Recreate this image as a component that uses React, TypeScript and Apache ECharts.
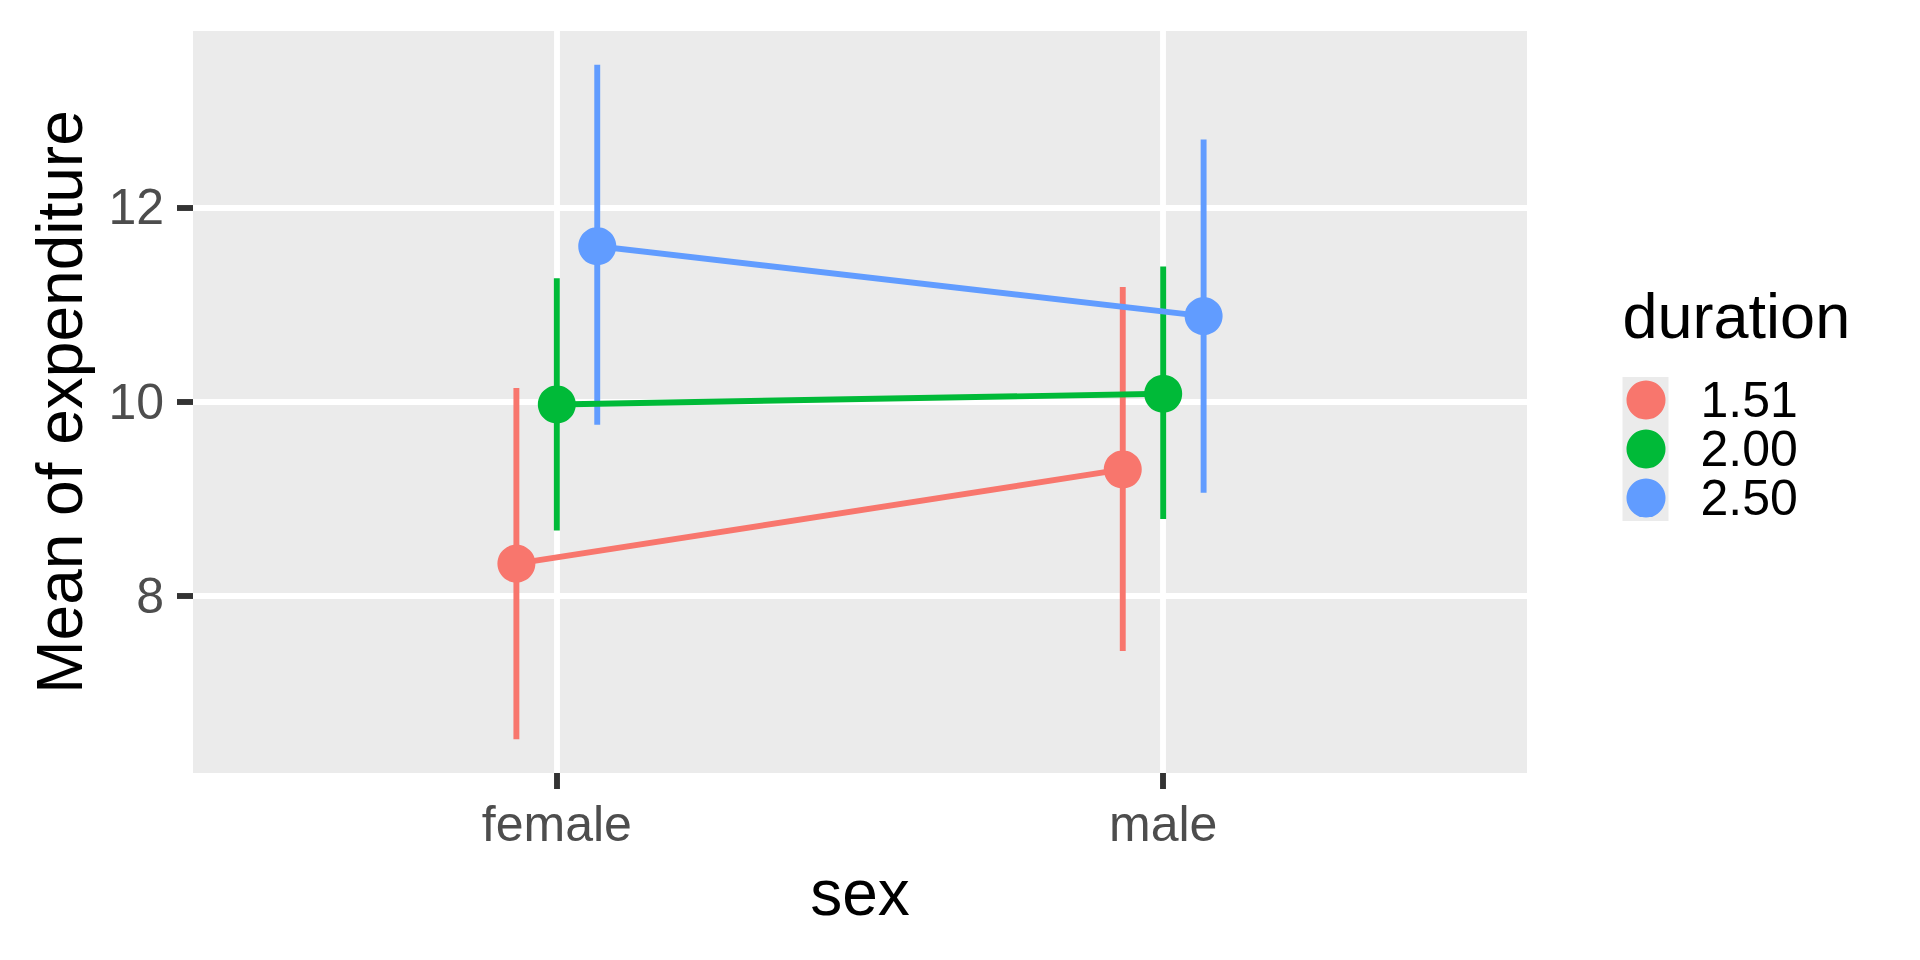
import React, { useEffect, useRef } from "react";
import * as echarts from "echarts";

const sexes = ["female", "male"];
const durations = ["1.51", "2.00", "2.50"];
const colors = ["#F8766D", "#00BA38", "#619CFF"];

const mean151 = [8.33, 9.3];
const lo151 = [6.52, 7.43];
const hi151 = [10.14, 11.18];

const mean200 = [9.97, 10.08];
const lo200 = [8.67, 8.79];
const hi200 = [11.27, 11.39];

const mean250 = [11.6, 10.88];
const lo250 = [9.76, 9.06];
const hi250 = [13.47, 12.7];

const yTicks = [8, 10, 12];
const dodgeWidth = 0.2;

const FONT = "'Liberation Sans', Arial, Helvetica, sans-serif";

export default function App() {
  const ref = useRef<HTMLDivElement>(null);

  useEffect(() => {
    if (!ref.current) return;
    const chart = echarts.init(ref.current, undefined, { renderer: "svg" });

    const means = [mean151, mean200, mean250];
    const los = [lo151, lo200, lo250];
    const his = [hi151, hi200, hi250];
    const n = durations.length;
    const offsets = durations.map((_, i) => (i - (n - 1) / 2) * (dodgeWidth / n));

    const allLo = Math.min(...los.flat());
    const allHi = Math.max(...his.flat());
    const pad = 0.05 * (allHi - allLo);

    const lineSeries = durations.map((d, i) => ({
      type: "line",
      name: d,
      data: sexes.map((_, j) => [j + 1 + offsets[i], means[i][j]]),
      symbol: "circle",
      symbolSize: 38,
      itemStyle: { color: colors[i] },
      lineStyle: { color: colors[i], width: 5.9 },
      z: 3,
    }));

    const errSeries = durations.map((d, i) => ({
      type: "custom",
      data: sexes.map((_, j) => [j + 1 + offsets[i], los[i][j], his[i][j]]),
      encode: { x: 0, y: [1, 2] },
      z: 3,
      renderItem: (params: any, api: any) => {
        const x = api.value(0);
        const p1 = api.coord([x, api.value(1)]);
        const p2 = api.coord([x, api.value(2)]);
        return {
          type: "line",
          shape: { x1: p1[0], y1: p1[1], x2: p2[0], y2: p2[1] },
          style: { stroke: colors[i], lineWidth: 5.9 },
        };
      },
    }));

    chart.setOption({
      animation: false,
      backgroundColor: "#FFFFFF",
      textStyle: { fontFamily: FONT },
      grid: {
        left: 193,
        top: 31,
        width: 1334,
        height: 742,
        show: true,
        backgroundColor: "#EBEBEB",
        borderWidth: 0,
      },
      xAxis: {
        type: "value",
        min: 0.4,
        max: 2.6,
        name: "sex",
        nameLocation: "middle",
        nameGap: 88,
        nameTextStyle: { fontSize: 64, color: "#000000", fontFamily: FONT },
        axisLine: { show: false },
        axisTick: {
          show: true,
          length: 16,
          customValues: [1, 2],
          lineStyle: { color: "#333333", width: 5.9 },
        },
        axisLabel: {
          customValues: [1, 2],
          margin: 26,
          fontSize: 50,
          color: "#4D4D4D",
          fontFamily: FONT,
          formatter: (v: number) => sexes[Math.round(v) - 1] ?? "",
        },
        splitLine: { show: true, lineStyle: { color: "#FFFFFF", width: 5.9 } },
      },
      yAxis: {
        type: "value",
        min: allLo - pad,
        max: allHi + pad,
        name: "Mean of expenditure",
        nameLocation: "middle",
        nameRotate: 90,
        nameGap: 101,
        nameTextStyle: { fontSize: 64, color: "#000000", fontFamily: FONT },
        axisLine: { show: false },
        axisTick: {
          show: true,
          length: 16,
          customValues: yTicks,
          lineStyle: { color: "#333333", width: 5.9 },
        },
        axisLabel: {
          customValues: yTicks,
          margin: 29,
          fontSize: 50,
          color: "#4D4D4D",
          fontFamily: FONT,
        },
        splitLine: { show: true, lineStyle: { color: "#FFFFFF", width: 5.9 } },
      },
      legend: {
        orient: "vertical",
        left: 1626.5,
        top: 375,
        itemWidth: 39,
        itemHeight: 39,
        itemGap: -1,
        padding: 0,
        icon: "circle",
        data: durations,
        selectedMode: false,
        textStyle: {
          fontSize: 50,
          color: "#000000",
          fontFamily: FONT,
          padding: [0, 0, 0, 30],
        },
        z: 5,
      },
      graphic: [
        {
          type: "rect",
          z: 1,
          shape: { x: 1622.5, y: 377, width: 46, height: 144 },
          style: { fill: "#EBEBEB" },
        },
        {
          type: "text",
          z: 1,
          x: 1622.5,
          y: 316,
          style: {
            text: "duration",
            fontSize: 63,
            fontFamily: FONT,
            fill: "#000000",
            verticalAlign: "middle",
            align: "left",
          },
        },
      ],
      series: [...lineSeries, ...errSeries],
    });

    return () => chart.dispose();
  }, []);

  return (
    <div
      ref={ref}
      style={{ position: "fixed", left: 0, top: 0, width: 1920, height: 960 }}
    />
  );
}
